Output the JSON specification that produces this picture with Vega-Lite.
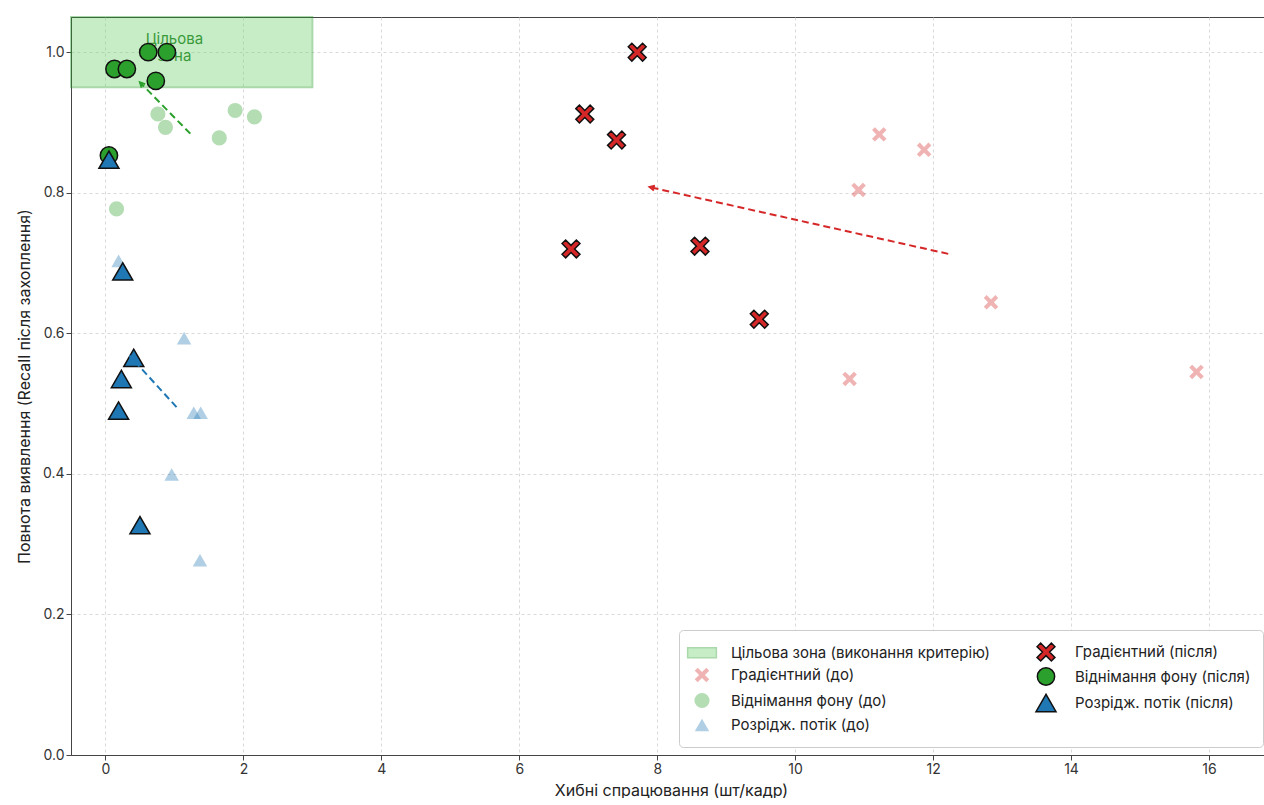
{
  "$schema": "https://vega.github.io/schema/vega-lite/v6.json",
  "width": 1200,
  "height": 738,
  "padding": {"left": 16, "top": 16, "right": 0, "bottom": 0},
  "config": {
    "font": "Inter",
    "view": {"stroke": "#444", "strokeWidth": 1},
    "axis": {
      "grid": true, "gridDash": [3, 3], "gridColor": "#cfcfcf", "gridWidth": 0.8,
      "domainColor": "#444", "tickColor": "#444", "tickSize": 5,
      "labelFontSize": 14, "labelColor": "#333", "labelFont": "Inter",
      "titleFontSize": 16, "titleFontWeight": "normal", "titleColor": "#222", "titleFont": "Inter"
    },
    "legend": {
      "orient": "bottom-right", "columns": 2, "title": null,
      "labelFontSize": 15, "labelColor": "#222", "labelFont": "Inter", "labelLimit": 400,
      "fillColor": "white", "strokeColor": "#cccccc", "padding": 12, "cornerRadius": 4,
      "rowPadding": 0, "columnPadding": 42, "labelOffset": 18, "offset": 8,
      "symbolStrokeWidth": 1.5
    }
  },
  "datasets": {
    "points": [
      {"series": "Градієнтний (до)", "fp": 11.22, "recall": 0.883},
      {"series": "Градієнтний (до)", "fp": 11.87, "recall": 0.861},
      {"series": "Градієнтний (до)", "fp": 10.92, "recall": 0.804},
      {"series": "Градієнтний (до)", "fp": 12.84, "recall": 0.644},
      {"series": "Градієнтний (до)", "fp": 10.79, "recall": 0.535},
      {"series": "Градієнтний (до)", "fp": 15.82, "recall": 0.545},
      {"series": "Віднімання фону (до)", "fp": 0.76, "recall": 0.912},
      {"series": "Віднімання фону (до)", "fp": 0.87, "recall": 0.893},
      {"series": "Віднімання фону (до)", "fp": 1.88, "recall": 0.917},
      {"series": "Віднімання фону (до)", "fp": 2.16, "recall": 0.908},
      {"series": "Віднімання фону (до)", "fp": 1.65, "recall": 0.878},
      {"series": "Віднімання фону (до)", "fp": 0.16, "recall": 0.777},
      {"series": "Розрідж. потік (до)", "fp": 0.19, "recall": 0.703},
      {"series": "Розрідж. потік (до)", "fp": 1.14, "recall": 0.593},
      {"series": "Розрідж. потік (до)", "fp": 1.28, "recall": 0.487},
      {"series": "Розрідж. потік (до)", "fp": 1.38, "recall": 0.487},
      {"series": "Розрідж. потік (до)", "fp": 0.96, "recall": 0.399},
      {"series": "Розрідж. потік (до)", "fp": 1.37, "recall": 0.277},
      {"series": "Градієнтний (після)", "fp": 7.71, "recall": 1.0},
      {"series": "Градієнтний (після)", "fp": 6.95, "recall": 0.912},
      {"series": "Градієнтний (після)", "fp": 7.41, "recall": 0.875},
      {"series": "Градієнтний (після)", "fp": 6.75, "recall": 0.72},
      {"series": "Градієнтний (після)", "fp": 8.62, "recall": 0.724},
      {"series": "Градієнтний (після)", "fp": 9.48, "recall": 0.62},
      {"series": "Віднімання фону (після)", "fp": 0.62, "recall": 1.0},
      {"series": "Віднімання фону (після)", "fp": 0.89, "recall": 1.0},
      {"series": "Віднімання фону (після)", "fp": 0.13, "recall": 0.976},
      {"series": "Віднімання фону (після)", "fp": 0.31, "recall": 0.976},
      {"series": "Віднімання фону (після)", "fp": 0.73, "recall": 0.959},
      {"series": "Віднімання фону (після)", "fp": 0.05, "recall": 0.853},
      {"series": "Розрідж. потік (після)", "fp": 0.25, "recall": 0.688},
      {"series": "Розрідж. потік (після)", "fp": 0.41, "recall": 0.565},
      {"series": "Розрідж. потік (після)", "fp": 0.23, "recall": 0.535},
      {"series": "Розрідж. потік (після)", "fp": 0.19, "recall": 0.49},
      {"series": "Розрідж. потік (після)", "fp": 0.5, "recall": 0.327},
      {"series": "Розрідж. потік (після)", "fp": 0.05, "recall": 0.847}
    ],
    "zone": [
      {"series": "Цільова зона (виконання критерію)", "fp": -0.5, "fp2": 3.0, "recall": 0.95, "recall2": 1.05}
    ],
    "zonelabel": [
      {"fp": 1.0, "recall": 1.028, "label": ["Цільова", "зона"]}
    ],
    "arrows": [
      {"method": "Градієнтний", "fp": 12.22, "recall": 0.713, "fp2": 7.89, "recall2": 0.808},
      {"method": "Віднімання фону", "fp": 1.23, "recall": 0.884, "fp2": 0.5, "recall2": 0.957},
      {"method": "Розрідж. потік", "fp": 1.03, "recall": 0.495, "fp2": 0.36, "recall2": 0.567}
    ]
  },
  "layer": [
    {
      "data": {"name": "zone"},
      "mark": {"type": "rect", "strokeWidth": 2},
      "encoding": {
        "x": {"field": "fp", "type": "quantitative", "scale": {"domain": [-0.5, 16.9], "nice": false, "zero": false},
              "axis": {"values": [0, 2, 4, 6, 8, 10, 12, 14, 16], "format": "d", "title": "Хибні спрацювання (шт/кадр)", "labelFlush": false, "titlePadding": 6}},
        "x2": {"field": "fp2"},
        "y": {"field": "recall", "type": "quantitative", "scale": {"domain": [0, 1.05], "nice": false, "zero": false},
              "axis": {"values": [0, 0.2, 0.4, 0.6, 0.8, 1.0], "format": ".1f", "title": "Повнота виявлення (Recall після захоплення)", "titlePadding": 10}},
        "y2": {"field": "recall2"},
        "color": {"field": "series", "type": "nominal",
          "scale": {"domain": ["Цільова зона (виконання критерію)", "Градієнтний (до)", "Віднімання фону (до)", "Розрідж. потік (до)", "Градієнтний (після)", "Віднімання фону (після)", "Розрідж. потік (після)"],
                    "range": ["#76d476", "#d62728", "#2ca02c", "#1f77b4", "#d62728", "#2ca02c", "#1f77b4"]}},
        "stroke": {"field": "series", "type": "nominal",
          "scale": {"domain": ["Цільова зона (виконання критерію)", "Градієнтний (до)", "Віднімання фону (до)", "Розрідж. потік (до)", "Градієнтний (після)", "Віднімання фону (після)", "Розрідж. потік (після)"],
                    "range": ["#2ca02c", "transparent", "transparent", "transparent", "#111111", "#111111", "#111111"]}},
        "opacity": {"field": "series", "type": "nominal",
          "scale": {"type": "ordinal", "domain": ["Цільова зона (виконання критерію)", "Градієнтний (до)", "Віднімання фону (до)", "Розрідж. потік (до)", "Градієнтний (після)", "Віднімання фону (після)", "Розрідж. потік (після)"],
                    "range": [0.4, 0.35, 0.35, 0.35, 1, 1, 1]}}
      }
    },
    {
      "data": {"name": "zonelabel"},
      "mark": {"type": "text", "fontSize": 15, "color": "#3a9a3a", "baseline": "top", "align": "center", "lineHeight": 17, "font": "Inter"},
      "encoding": {
        "x": {"field": "fp", "type": "quantitative"},
        "y": {"field": "recall", "type": "quantitative"},
        "text": {"field": "label"}
      }
    },
    {
      "data": {"name": "points"},
      "mark": {"type": "point", "filled": true, "strokeWidth": 1.5},
      "encoding": {
        "x": {"field": "fp", "type": "quantitative"},
        "y": {"field": "recall", "type": "quantitative"},
        "color": {"field": "series", "type": "nominal",
          "scale": {"domain": ["Цільова зона (виконання критерію)", "Градієнтний (до)", "Віднімання фону (до)", "Розрідж. потік (до)", "Градієнтний (після)", "Віднімання фону (після)", "Розрідж. потік (після)"],
                    "range": ["#76d476", "#d62728", "#2ca02c", "#1f77b4", "#d62728", "#2ca02c", "#1f77b4"]}},
        "stroke": {"field": "series", "type": "nominal",
          "scale": {"domain": ["Цільова зона (виконання критерію)", "Градієнтний (до)", "Віднімання фону (до)", "Розрідж. потік (до)", "Градієнтний (після)", "Віднімання фону (після)", "Розрідж. потік (після)"],
                    "range": ["#2ca02c", "transparent", "transparent", "transparent", "#111111", "#111111", "#111111"]}},
        "opacity": {"field": "series", "type": "nominal",
          "scale": {"type": "ordinal", "domain": ["Цільова зона (виконання критерію)", "Градієнтний (до)", "Віднімання фону (до)", "Розрідж. потік (до)", "Градієнтний (після)", "Віднімання фону (після)", "Розрідж. потік (після)"],
                    "range": [0.4, 0.35, 0.35, 0.35, 1, 1, 1]}},
        "shape": {"field": "series", "type": "nominal",
          "scale": {"domain": ["Цільова зона (виконання критерію)", "Градієнтний (до)", "Віднімання фону (до)", "Розрідж. потік (до)", "Градієнтний (після)", "Віднімання фону (після)", "Розрідж. потік (після)"],
                    "range": ["M-2.2,-0.75H2.2V0.75H-2.2Z",
                              "M-1,-0.6L-0.6,-1L0,-0.4L0.6,-1L1,-0.6L0.4,0L1,0.6L0.6,1L0,0.4L-0.6,1L-1,0.6L-0.4,0Z",
                              "circle", "triangle-up",
                              "M-1,-0.6L-0.6,-1L0,-0.4L0.6,-1L1,-0.6L0.4,0L1,0.6L0.6,1L0,0.4L-0.6,1L-1,0.6L-0.4,0Z",
                              "circle", "triangle-up"]}},
        "size": {"field": "series", "type": "nominal",
          "scale": {"type": "ordinal", "domain": ["Цільова зона (виконання критерію)", "Градієнтний (до)", "Віднімання фону (до)", "Розрідж. потік (до)", "Градієнтний (після)", "Віднімання фону (після)", "Розрідж. потік (після)"],
                    "range": [170, 210, 230, 210, 320, 300, 400]}}
      }
    },
    {
      "data": {"name": "arrows"},
      "transform": [{"filter": "datum.method === 'Градієнтний'"}],
      "mark": {"type": "rule", "strokeWidth": 2, "strokeDash": [7, 4], "color": "#d62728"},
      "encoding": {
        "x": {"field": "fp", "type": "quantitative"},
        "y": {"field": "recall", "type": "quantitative"},
        "x2": {"field": "fp2"},
        "y2": {"field": "recall2"}
      }
    },
    {
      "data": {"name": "arrows"},
      "transform": [{"filter": "datum.method === 'Віднімання фону'"}],
      "mark": {"type": "rule", "strokeWidth": 2, "strokeDash": [7, 4], "color": "#2ca02c"},
      "encoding": {
        "x": {"field": "fp", "type": "quantitative"},
        "y": {"field": "recall", "type": "quantitative"},
        "x2": {"field": "fp2"},
        "y2": {"field": "recall2"}
      }
    },
    {
      "data": {"name": "arrows"},
      "transform": [{"filter": "datum.method === 'Розрідж. потік'"}],
      "mark": {"type": "rule", "strokeWidth": 2, "strokeDash": [7, 4], "color": "#1f77b4"},
      "encoding": {
        "x": {"field": "fp", "type": "quantitative"},
        "y": {"field": "recall", "type": "quantitative"},
        "x2": {"field": "fp2"},
        "y2": {"field": "recall2"}
      }
    },
    {
      "data": {"name": "arrows"},
      "transform": [{"filter": "datum.method === 'Градієнтний'"}],
      "mark": {"type": "point", "filled": false, "strokeWidth": 2, "shape": "M-0.7,1.4L0,0L0.7,1.4", "size": 50, "angle": 282.7, "opacity": 1, "color": "#d62728"},
      "encoding": {
        "x": {"field": "fp2", "type": "quantitative"},
        "y": {"field": "recall2", "type": "quantitative"}
      }
    },
    {
      "data": {"name": "arrows"},
      "transform": [{"filter": "datum.method === 'Віднімання фону'"}],
      "mark": {"type": "point", "filled": false, "strokeWidth": 2, "shape": "M-0.7,1.4L0,0L0.7,1.4", "size": 50, "angle": 315.6, "opacity": 1, "color": "#2ca02c"},
      "encoding": {
        "x": {"field": "fp2", "type": "quantitative"},
        "y": {"field": "recall2", "type": "quantitative"}
      }
    },
    {
      "data": {"name": "arrows"},
      "transform": [{"filter": "datum.method === 'Розрідж. потік'"}],
      "mark": {"type": "point", "filled": false, "strokeWidth": 2, "shape": "M-0.7,1.4L0,0L0.7,1.4", "size": 50, "angle": 318, "opacity": 1, "color": "#1f77b4"},
      "encoding": {
        "x": {"field": "fp2", "type": "quantitative"},
        "y": {"field": "recall2", "type": "quantitative"}
      }
    }
  ]
}
